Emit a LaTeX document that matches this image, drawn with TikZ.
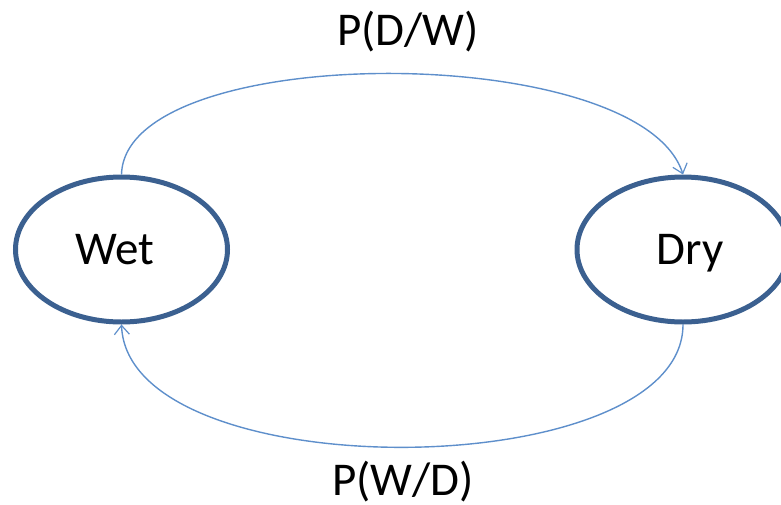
\documentclass[tikz,border=0pt]{standalone}
\usepackage{fontspec}
\setmainfont{Carlito}
\usetikzlibrary{shapes.geometric,arrows.meta}
\definecolor{ringblue}{HTML}{3B6090}
\definecolor{arcblue}{HTML}{5E8FCB}
\tikzset{
  statebox/.style={ellipse, draw=ringblue, line width=5pt, minimum width=212pt, minimum height=145pt, inner sep=0pt,
    font=\fontsize{47}{50}\selectfont, text height=30pt, text depth=0pt},
  arcline/.style={draw=arcblue, line width=1.4pt, -{Straight Barb[length=9pt,width=15pt,line width=1.2pt]}},
  problabel/.style={font=\fontsize{47}{50}\selectfont, anchor=base, inner sep=0pt}
}
\begin{document}
\begin{tikzpicture}[x=1pt,y=-1pt]
\useasboundingbox (0,0) rectangle (781,504);
\node[statebox] (wet) at (121.5,249.5) {\kern-14pt Wet};
\node[statebox] (dry) at (683,249.5) {Dry\kern-14pt};
\node[problabel] (pdw) at (408,45) {P(D/W)};
\node[problabel] (pwd) at (403,495) {P(W/D)};
\draw[arcline] (wet.north) .. controls (125,40) and (640,40) .. (dry.north);
\draw[arcline] (dry.south) .. controls (683,486) and (128,490) .. (wet.south);
\end{tikzpicture}
\end{document}
